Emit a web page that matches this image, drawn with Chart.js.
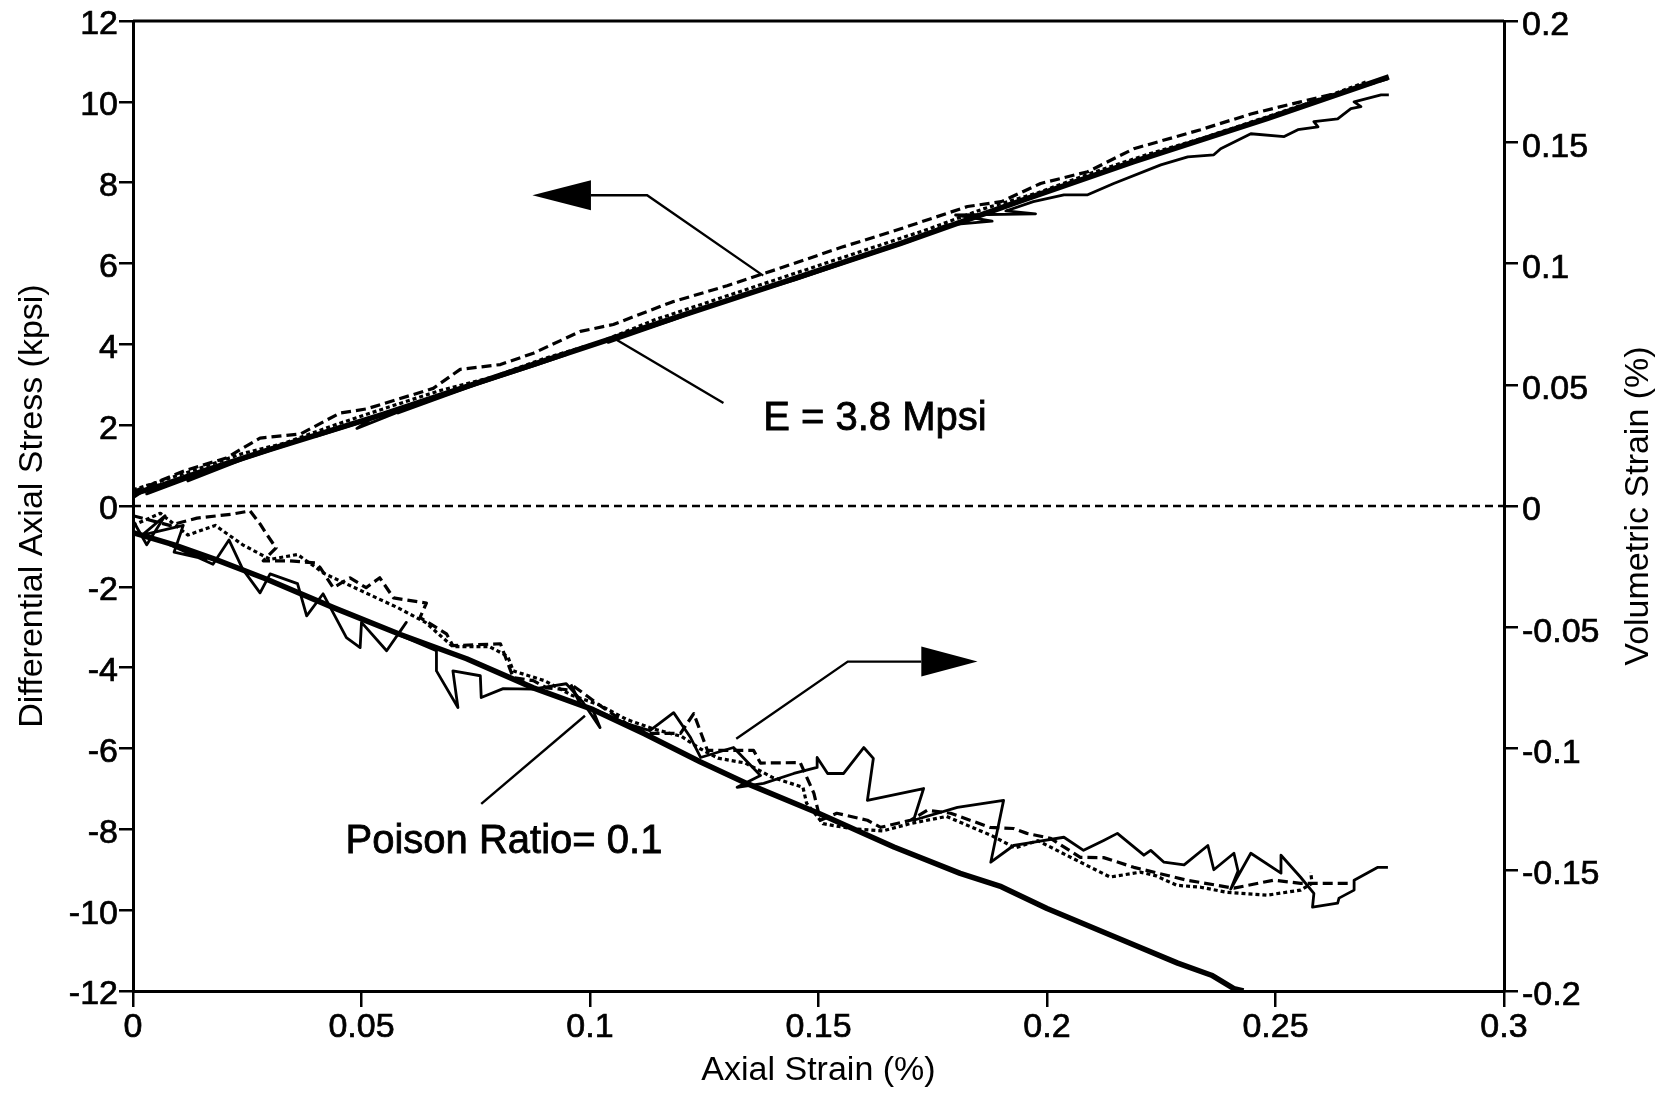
<!DOCTYPE html>
<html>
<head>
<meta charset="utf-8">
<script src="https://cdn.jsdelivr.net/npm/chart.js@4/dist/chart.umd.min.js"></script>
<style>
  html, body { margin: 0; padding: 0; background: #fff; }
  #c { display: block; }
</style>
</head>
<body>
<canvas id="c" width="1666" height="1095"></canvas>
<script>
// ---------- tick labels ----------
const xTickLabels = ['0', '0.05', '0.1', '0.15', '0.2', '0.25', '0.3'];
const yLeftTickLabels = ['-12', '-10', '-8', '-6', '-4', '-2', '0', '2', '4', '6', '8', '10', '12'];
const yRightTickLabels = ['-0.2', '-0.15', '-0.1', '-0.05', '0', '0.05', '0.1', '0.15', '0.2'];

// ---------- stress vs axial strain (left axis, kpsi) ----------
const upThickX = [0, 0.006, 0.015, 0.03, 0.0547, 0.08, 0.1095, 0.14, 0.168, 0.195, 0.219, 0.2483, 0.2748];
const upThickY = [0.3, 0.5, 0.85, 1.4, 2.27, 3.22, 4.32, 5.45, 6.5, 7.58, 8.52, 9.59, 10.62];

const upThinX = [0, 0.004, 0.008, 0.003, 0.016, 0.012, 0.024, 0.036, 0.045, 0.040, 0.052, 0.049, 0.063, 0.058, 0.075, 0.088, 0.095, 0.090, 0.108, 0.104, 0.118, 0.130, 0.126, 0.145, 0.158, 0.170, 0.178, 0.188, 0.180, 0.1975, 0.191, 0.197, 0.2037, 0.2089, 0.2146, 0.2249, 0.2308, 0.2365, 0.238, 0.2446, 0.2519, 0.2549, 0.2593, 0.2584, 0.2636, 0.2665, 0.2687, 0.2672, 0.2731, 0.2748];
const upThinY = [0.2, 0.5, 0.55, 0.3, 0.85, 0.62, 1.15, 1.6, 1.95, 1.72, 2.15, 1.92, 2.55, 2.3, 3.0, 3.48, 3.75, 3.6, 4.25, 4.05, 4.6, 5.1, 4.95, 5.6, 6.1, 6.55, 6.95, 7.05, 7.2, 7.23, 7.3, 7.53, 7.70, 7.70, 7.98, 8.44, 8.64, 8.69, 8.84, 9.21, 9.14, 9.31, 9.38, 9.51, 9.58, 9.83, 9.88, 10.0, 10.17, 10.17];

const upDashX = [0, 0.011, 0.0204, 0.0278, 0.0366, 0.0453, 0.051, 0.0657, 0.0716, 0.0804, 0.0876, 0.0979, 0.1051, 0.118, 0.13, 0.142, 0.155, 0.168, 0.1826, 0.19, 0.1986, 0.2089, 0.219, 0.2336, 0.2446, 0.2555, 0.2665, 0.2746];
const upDashY = [0.35, 0.86, 1.19, 1.68, 1.78, 2.3, 2.4, 2.91, 3.38, 3.5, 3.78, 4.32, 4.49, 5.05, 5.45, 5.9, 6.4, 6.86, 7.41, 7.53, 7.98, 8.27, 8.84, 9.31, 9.7, 10.0, 10.3, 10.57];

const upDotX = [0, 0.007, 0.015, 0.024, 0.033, 0.044, 0.056, 0.067, 0.079, 0.09, 0.102, 0.114, 0.126, 0.138, 0.15, 0.162, 0.174, 0.186, 0.198, 0.21, 0.222, 0.234, 0.246, 0.258, 0.27];
const upDotY = [0.4, 0.65, 0.95, 1.3, 1.55, 2.0, 2.45, 2.85, 3.2, 3.65, 4.05, 4.6, 5.05, 5.5, 5.95, 6.4, 6.85, 7.35, 7.75, 8.25, 8.7, 9.1, 9.55, 10.0, 10.5];

// ---------- volumetric strain vs axial strain (right axis, %) ----------
const lowThickX = [0, 0.009, 0.018, 0.029, 0.044, 0.0585, 0.073, 0.0876, 0.1007, 0.112, 0.1242, 0.1344, 0.150, 0.1665, 0.181, 0.190, 0.200, 0.214, 0.2286, 0.236, 0.2409, 0.243];
const lowThickY = [-0.011, -0.016, -0.022, -0.030, -0.042, -0.053, -0.063, -0.075, -0.084, -0.094, -0.1056, -0.1145, -0.1267, -0.1406, -0.1515, -0.157, -0.166, -0.177, -0.1885, -0.1935, -0.199, -0.2];

const lowThinX = [0, 0.003, 0.007, 0.002, 0.011, 0.009, 0.016, 0.008, 0.0175, 0.021, 0.024, 0.0278, 0.030, 0.036, 0.038, 0.0416, 0.0467, 0.0497, 0.050, 0.0555, 0.0598, 0.058, 0.0664, 0.0664, 0.0711, 0.070, 0.076, 0.0762, 0.081, 0.0875, 0.0948, 0.0985, 0.1022, 0.1005, 0.108, 0.1131, 0.1183, 0.122, 0.1242, 0.1314, 0.1373, 0.1322, 0.138, 0.1446, 0.1497, 0.1497, 0.152, 0.1555, 0.1599, 0.162, 0.1607, 0.173, 0.1708, 0.1804, 0.1905, 0.1877, 0.1927, 0.1958, 0.2037, 0.208, 0.2124, 0.2154, 0.2212, 0.2227, 0.2256, 0.230, 0.2352, 0.2365, 0.2409, 0.2418, 0.2402, 0.2446, 0.2512, 0.2512, 0.2555, 0.2584, 0.2581, 0.2636, 0.2639, 0.2672, 0.2672, 0.2724, 0.2746];
const lowThinY = [-0.006, -0.016, -0.004, -0.012, -0.008, -0.019, -0.022, -0.016, -0.024, -0.014, -0.026, -0.0358, -0.028, -0.032, -0.0453, -0.0362, -0.0543, -0.0584, -0.048, -0.0597, -0.048, -0.053, -0.0597, -0.068, -0.0831, -0.068, -0.070, -0.079, -0.0753, -0.0755, -0.0733, -0.081, -0.0914, -0.0835, -0.0897, -0.0926, -0.0852, -0.0955, -0.1037, -0.0996, -0.1111, -0.116, -0.1144, -0.1103, -0.1078, -0.1037, -0.1103, -0.1103, -0.0996, -0.1041, -0.1214, -0.1165, -0.1296, -0.1243, -0.1214, -0.1469, -0.140, -0.139, -0.1366, -0.142, -0.1379, -0.135, -0.144, -0.142, -0.1469, -0.148, -0.140, -0.150, -0.1432, -0.1505, -0.158, -0.1432, -0.1514, -0.144, -0.1531, -0.1597, -0.1654, -0.1638, -0.1617, -0.1584, -0.1543, -0.149, -0.149];

const lowDashX = [0, 0.008, 0.014, 0.0219, 0.0256, 0.0278, 0.0292, 0.0313, 0.0285, 0.0343, 0.040, 0.041, 0.0438, 0.0475, 0.051, 0.054, 0.057, 0.0642, 0.0628, 0.0686, 0.070, 0.0804, 0.0832, 0.0876, 0.0905, 0.0964, 0.098, 0.0957, 0.102, 0.108, 0.1126, 0.1198, 0.1227, 0.1257, 0.1358, 0.1373, 0.146, 0.149, 0.1504, 0.154, 0.1607, 0.1636, 0.1701, 0.1738, 0.1789, 0.1875, 0.1927, 0.1956, 0.2007, 0.2073, 0.2124, 0.219, 0.2306, 0.2409, 0.2496, 0.2555, 0.2665];
const lowDashY = [-0.004, -0.008, -0.005, -0.0033, -0.002, -0.0074, -0.0115, -0.0173, -0.0226, -0.0226, -0.0235, -0.0255, -0.0337, -0.0296, -0.0337, -0.0296, -0.0379, -0.040, -0.046, -0.0527, -0.0576, -0.0568, -0.0708, -0.072, -0.075, -0.076, -0.082, -0.0733, -0.082, -0.0897, -0.0938, -0.0938, -0.0856, -0.1008, -0.1008, -0.106, -0.1058, -0.1185, -0.1296, -0.1267, -0.1296, -0.1325, -0.1296, -0.1255, -0.1267, -0.1325, -0.133, -0.135, -0.137, -0.1449, -0.145, -0.149, -0.1543, -0.1576, -0.1543, -0.1556, -0.1556];

const lowDotX = [0, 0.006, 0.012, 0.018, 0.024, 0.03, 0.036, 0.042, 0.05, 0.058, 0.064, 0.07, 0.078, 0.082, 0.0832, 0.09, 0.096, 0.102, 0.108, 0.114, 0.12, 0.124, 0.128, 0.134, 0.14, 0.1466, 0.1474, 0.151, 0.157, 0.164, 0.17, 0.178, 0.183, 0.188, 0.193, 0.198, 0.203, 0.2138, 0.2204, 0.2237, 0.2284, 0.2336, 0.2394, 0.2481, 0.2555, 0.258, 0.2577];
const lowDotY = [-0.008, -0.003, -0.012, -0.008, -0.016, -0.022, -0.02, -0.028, -0.035, -0.042, -0.048, -0.058, -0.058, -0.062, -0.068, -0.072, -0.078, -0.082, -0.088, -0.092, -0.095, -0.1, -0.104, -0.106, -0.112, -0.116, -0.1226, -0.131, -0.133, -0.134, -0.131, -0.128, -0.132, -0.136, -0.141, -0.138, -0.1428, -0.153, -0.151, -0.1524, -0.1564, -0.1572, -0.1593, -0.1605, -0.1584, -0.1556, -0.151];

// zero reference line on volumetric axis
const zeroLineX = [0, 0.3];
const zeroLineY = [0, 0];

// ---------- annotations (data units: axial strain, kpsi) ----------
const arrowTips = [[0.0874, 7.69], [0.1848, -3.85]];
const arrowBaseX = [0.1002, 0.1725];
const leaderPaths = [
  [[0.1002, 7.69], [0.1125, 7.69], [0.1379, 5.70]],
  [[0.1057, 4.12], [0.1292, 2.55]],
  [[0.1725, -3.85], [0.1564, -3.85], [0.1320, -5.76]],
  [[0.0762, -7.37], [0.0989, -5.19]]
];
const noteTexts = ['E = 3.8 Mpsi', 'Poison Ratio= 0.1'];
const notePos = [[0.1379, 2.16], [0.0465, -8.31]];

// ---------- build ----------
const FONT = '"Liberation Sans", Arial, Helvetica, sans-serif';
const pts = (xs, ys) => xs.map((x, i) => ({ x: x, y: ys[i] }));
const line = (data, axis, width, dash) => ({
  data: data, yAxisID: axis, showLine: true, pointRadius: 0, pointHoverRadius: 0,
  borderColor: '#000', backgroundColor: '#000', borderWidth: width,
  borderDash: dash || [], borderJoinStyle: 'round', borderCapStyle: 'butt',
  tension: 0, fill: false
});

const annotPlugin = {
  id: 'annot',
  afterDatasetsDraw(chart) {
    const { ctx, scales } = chart;
    const X = v => scales.x.getPixelForValue(v);
    const Y = v => scales.y.getPixelForValue(v);
    ctx.save();
    ctx.strokeStyle = '#000';
    ctx.fillStyle = '#000';
    ctx.lineWidth = 2.4;
    ctx.lineJoin = 'miter';
    leaderPaths.forEach(p => {
      ctx.beginPath();
      p.forEach((q, i) => i ? ctx.lineTo(X(q[0]), Y(q[1])) : ctx.moveTo(X(q[0]), Y(q[1])));
      ctx.stroke();
    });
    arrowTips.forEach((t, i) => {
      const tx = X(t[0]), ty = Y(t[1]), bx = X(arrowBaseX[i]);
      ctx.beginPath();
      ctx.moveTo(tx, ty);
      ctx.lineTo(bx, ty - 15);
      ctx.lineTo(bx, ty + 15);
      ctx.closePath();
      ctx.fill();
    });
    ctx.font = '40px ' + FONT;
    ctx.textAlign = 'left';
    ctx.textBaseline = 'middle';
    ctx.lineWidth = 0.8;
    noteTexts.forEach((s, i) => {
      ctx.fillText(s, X(notePos[i][0]), Y(notePos[i][1]));
      ctx.strokeText(s, X(notePos[i][0]), Y(notePos[i][1]));
    });
    ctx.restore();
  },
  afterDraw(chart) {
    const { ctx, chartArea } = chart;
    ctx.save();
    // top frame line
    ctx.strokeStyle = '#000';
    ctx.lineWidth = 3;
    ctx.beginPath();
    ctx.moveTo(chartArea.left, chartArea.top);
    ctx.lineTo(chartArea.right, chartArea.top);
    ctx.stroke();
    // right axis title (reads bottom-to-top)
    ctx.translate(chart.width - 27, (chartArea.top + chartArea.bottom) / 2);
    ctx.rotate(-Math.PI / 2);
    ctx.font = '34px ' + FONT;
    ctx.fillStyle = '#000';
    ctx.textAlign = 'center';
    ctx.textBaseline = 'middle';
    ctx.fillText('Volumetric Strain (%)', 0, 0);
    ctx.restore();
  }
};

const tickFont = { family: FONT, size: 34, lineHeight: 1 };

new Chart(document.getElementById('c'), {
  type: 'scatter',
  data: {
    datasets: [
      line(pts(zeroLineX, zeroLineY), 'y2', 2.5, [8, 5]),
      line(pts(upDotX, upDotY), 'y', 3.2, [4, 3]),
      line(pts(upDashX, upDashY), 'y', 3.2, [10, 5]),
      line(pts(upThinX, upThinY), 'y', 2.8),
      line(pts(upThickX, upThickY), 'y', 5.5),
      line(pts(lowDotX, lowDotY), 'y2', 3.2, [4, 3]),
      line(pts(lowDashX, lowDashY), 'y2', 3.2, [10, 5]),
      line(pts(lowThinX, lowThinY), 'y2', 2.8),
      line(pts(lowThickX, lowThickY), 'y2', 5.5)
    ]
  },
  options: {
    responsive: false,
    devicePixelRatio: 1,
    animation: false,
    events: [],
    layout: { padding: { top: 19, left: 0, right: 0, bottom: 0 } },
    plugins: { legend: { display: false }, tooltip: { enabled: false } },
    scales: {
      x: {
        type: 'linear', position: 'bottom', min: 0, max: 0.3,
        ticks: {
          stepSize: 0.05, autoSkip: false, maxRotation: 0, padding: 4,
          color: '#000', font: tickFont, textStrokeColor: '#000', textStrokeWidth: 0.7,
          callback: (v, i) => xTickLabels[i]
        },
        grid: { drawOnChartArea: false, drawTicks: true, tickLength: 16, color: '#000', lineWidth: 2.5 },
        border: { display: true, color: '#000', width: 3 },
        title: { display: true, text: 'Axial Strain (%)', color: '#000', font: { family: FONT, size: 34 }, padding: { top: 0, bottom: 4 } },
        afterFit: s => { s.height = 104; }
      },
      y: {
        type: 'linear', position: 'left', min: -12, max: 12,
        ticks: {
          stepSize: 2, autoSkip: false, padding: 1, labelOffset: 4,
          color: '#000', font: tickFont, textStrokeColor: '#000', textStrokeWidth: 0.7,
          callback: (v, i) => yLeftTickLabels[i]
        },
        grid: { drawOnChartArea: false, drawTicks: true, tickLength: 14, color: '#000', lineWidth: 2.5 },
        border: { display: true, color: '#000', width: 3 },
        title: { display: true, text: 'Differential Axial Stress (kpsi)', color: '#000', font: { family: FONT, size: 34 }, padding: { top: 12, bottom: 0 } },
        afterFit: s => { s.width = 133; }
      },
      y2: {
        type: 'linear', position: 'right', min: -0.2, max: 0.2,
        ticks: {
          stepSize: 0.05, autoSkip: false, padding: 4, labelOffset: 5,
          color: '#000', font: tickFont, textStrokeColor: '#000', textStrokeWidth: 0.7,
          callback: (v, i) => yRightTickLabels[i]
        },
        grid: { drawOnChartArea: false, drawTicks: true, tickLength: 14, color: '#000', lineWidth: 2.5 },
        border: { display: true, color: '#000', width: 3 },
        title: { display: false },
        afterFit: s => { s.width = 162; }
      }
    }
  },
  plugins: [annotPlugin]
});
</script>
</body>
</html>
